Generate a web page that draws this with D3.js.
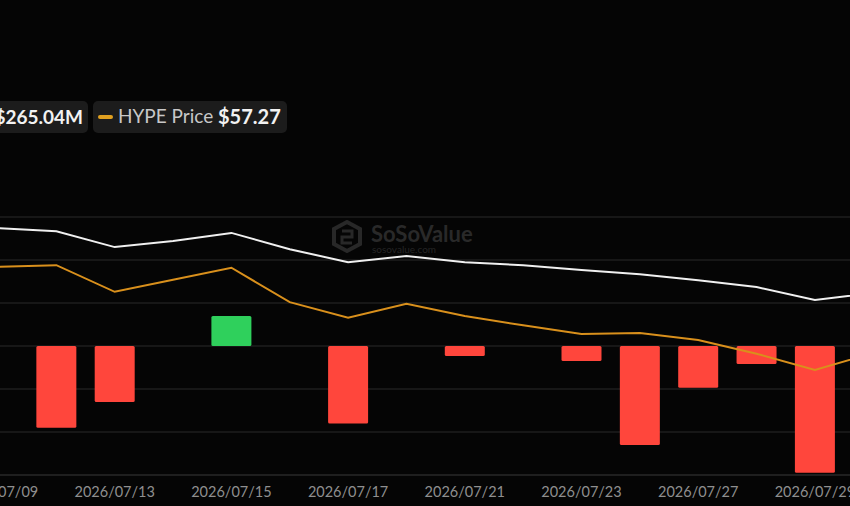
<!DOCTYPE html>
<html>
<head>
<meta charset="utf-8">
<script src="https://cdn.jsdelivr.net/npm/d3@7"></script>
<style>
  body { margin: 0; background: #050505; overflow: hidden; }
  svg { display: block; font-family: Lato, "Open Sans", sans-serif; }
</style>
</head>
<body>
<svg id="chart" width="850" height="506"></svg>
<script>
  // trading days, ticks every second one
  var dates = ["2026/07/09", "2026/07/10", "2026/07/13", "2026/07/14", "2026/07/15", "2026/07/16",
    "2026/07/17", "2026/07/20", "2026/07/21", "2026/07/22", "2026/07/23", "2026/07/24",
    "2026/07/27", "2026/07/28", "2026/07/29", "2026/07/30"];
  var netInflow = [0, -19, -13, 0, 7, 0, -18, 0, -2.3, 0, -3.5, -23, -9.7, -4.2, -29.5, 0]; // $M
  var netAssets = [974, 967, 930, 944, 963, 925, 895, 909, 895, 888, 877, 867, 853, 837, 807, 823]; // $M
  var hypePrice = [68.1, 68.3, 65.2, 66.6, 68.0, 64.0, 62.2, 63.8, 62.4, 61.3, 60.3, 60.4, 59.6, 58.0, 56.1, 58.1];
  var flowTicks = [30, 20, 10, 0, -10, -20, -30];

  var svg = d3.select("#chart");
  var step = 58.35;
  var x = d3.scalePoint().domain(dates).range([-2, -2 + step * (dates.length - 1)]);
  var yFlow = d3.scaleLinear().domain([-30, 30]).range([475, 217]);
  var yAssets = d3.scaleLinear().domain([400, 1000]).range([475, 217]);
  var yPrice = d3.scaleLinear().domain([58.9 - 15, 58.9 + 15]).range([475, 217]);

  // grid
  svg.append("g").selectAll("line").data(flowTicks).join("line")
    .attr("x1", 0).attr("x2", 850)
    .attr("y1", d => yFlow(d)).attr("y2", d => yFlow(d))
    .attr("stroke", d => d === -30 ? "#3a3a3a" : "#2a2a2a").attr("stroke-width", 1);

  // watermark
  var wm = svg.append("g").attr("transform", "translate(333,222)").attr("opacity", 0.9);
  wm.append("path").attr("d", "M14,0 L27,7 L27,22 L14,29 L1,22 L1,7 Z")
    .attr("fill", "none").attr("stroke", "#2c2c2c").attr("stroke-width", 4);
  wm.append("path").attr("d", "M9,9 L19,9 L19,15 L9,15 L9,21 L19,21")
    .attr("fill", "none").attr("stroke", "#2c2c2c").attr("stroke-width", 3);
  wm.append("text").attr("x", 38).attr("y", 20).attr("fill", "#2e2e2e")
    .attr("font-size", 22).attr("font-weight", 700).text("SoSoValue");
  wm.append("text").attr("x", 39).attr("y", 31).attr("fill", "#2a2a2a")
    .attr("font-size", 10).text("sosovalue.com");

  // bars
  svg.append("g").selectAll("rect").data(netInflow.map((v, i) => ({ v: v, d: dates[i] })).filter(o => o.v !== 0))
    .join("rect")
    .attr("x", o => x(o.d) - 20).attr("width", 40)
    .attr("y", o => Math.min(yFlow(o.v), yFlow(0)))
    .attr("height", o => Math.abs(yFlow(o.v) - yFlow(0)))
    .attr("rx", 1.5)
    .attr("fill", o => o.v > 0 ? "#2fd05c" : "#ff463c");

  // lines
  var assetLine = d3.line().x((d, i) => x(dates[i])).y(d => yAssets(d));
  var priceLine = d3.line().x((d, i) => x(dates[i])).y(d => yPrice(d));
  svg.append("path").attr("d", priceLine(hypePrice)).attr("fill", "none")
    .attr("stroke", "#d9901c").attr("stroke-width", 2);
  svg.append("path").attr("d", assetLine(netAssets)).attr("fill", "none")
    .attr("stroke", "#f0f0f0").attr("stroke-width", 2);

  // x axis labels
  svg.append("g").selectAll("text").data(dates.filter((d, i) => i % 2 === 0)).join("text")
    .attr("x", d => x(d)).attr("y", 497).attr("text-anchor", "middle")
    .attr("fill", "#8f8f8f").attr("font-size", 14.5).text(d => d);

  // legend
  var lg1 = svg.append("g");
  lg1.append("rect").attr("x", -200).attr("y", 101).attr("width", 288).attr("height", 32)
    .attr("rx", 5).attr("fill", "#1c1c1c");
  lg1.append("text").attr("x", 83).attr("y", 124).attr("text-anchor", "end")
    .attr("font-size", 19).attr("font-weight", 700).attr("fill", "#f2f2f2").text("-$265.04M");
  var lg2 = svg.append("g");
  lg2.append("rect").attr("x", 93).attr("y", 101).attr("width", 194).attr("height", 32)
    .attr("rx", 5).attr("fill", "#1c1c1c");
  lg2.append("line").attr("x1", 100).attr("x2", 111).attr("y1", 117).attr("y2", 117)
    .attr("stroke", "#e0a020").attr("stroke-width", 4).attr("stroke-linecap", "round");
  lg2.append("text").attr("x", 118).attr("y", 123).attr("font-size", 19)
    .attr("fill", "#c8c8c8").text("HYPE Price");
  lg2.append("text").attr("x", 218).attr("y", 124).attr("font-size", 20)
    .attr("font-weight", 700).attr("fill", "#f2f2f2").text("$57.27");
</script>
</body>
</html>
